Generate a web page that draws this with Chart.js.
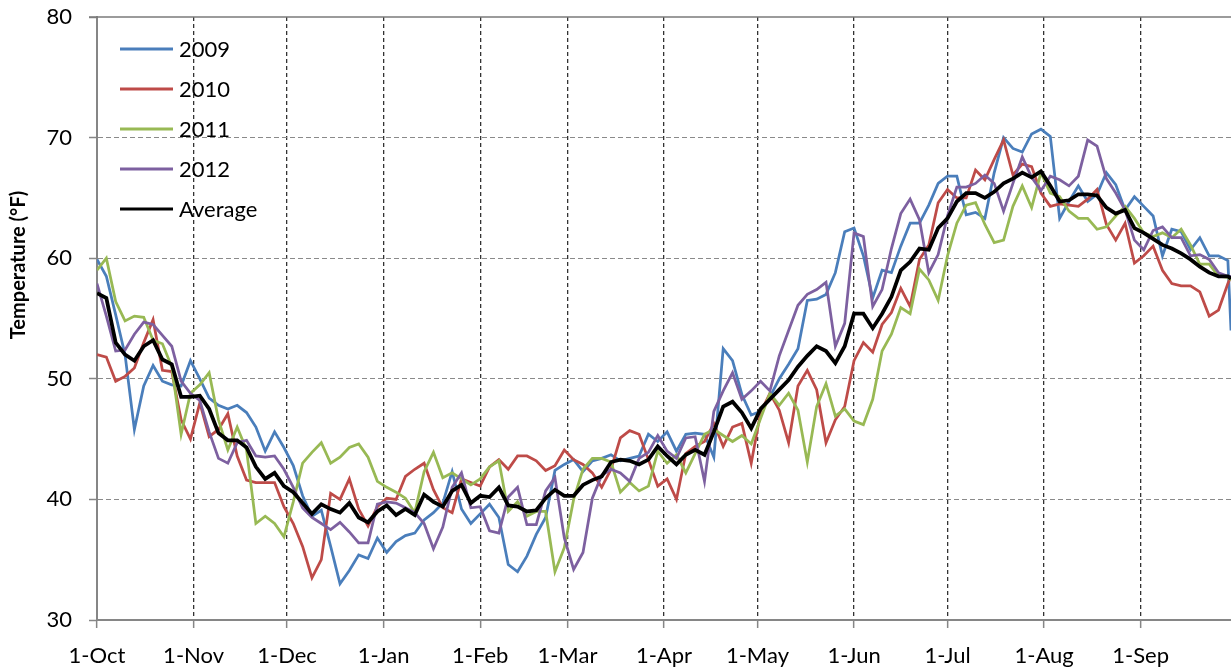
<!DOCTYPE html>
<html>
<head>
<meta charset="utf-8">
<title>Daily mean temperature, October to September</title>
<script src="https://cdn.jsdelivr.net/npm/chart.js@4.4.1/dist/chart.umd.min.js"></script>
<style>
  html, body { margin: 0; padding: 0; background: #fff; }
  #wrap { width: 1231px; height: 671px; }
</style>
</head>
<body>
<div id="wrap"><canvas id="tempChart" width="1231" height="671"></canvas></div>
<script>
// Days counted from 1 October; readings are kept every third day plus the last day of the year
const SAMPLE_DAYS = Array.from({ length: 122 }, (_, i) => i * 3).concat([364]);

// Month starts on the x axis
const MONTH_DAYS = [0, 31, 61, 92, 123, 151, 182, 212, 243, 273, 304, 335];
const MONTH_LABELS = ['1-Oct', '1-Nov', '1-Dec', '1-Jan', '1-Feb', '1-Mar',
                      '1-Apr', '1-May', '1-Jun', '1-Jul', '1-Aug', '1-Sep'];

const Y_TICKS = [30, 40, 50, 60, 70, 80];
const Y_TITLE = 'Temperature (°F)';

// Daily temperatures (°F) per season
const TEMP_2009 = [
  59.9, 58.5, 55.3, 52.0, 45.8, 49.4, 51.1, 49.8, 49.5, 49.4, 51.5, 50.0, 48.4, 47.8, 47.5, 47.8, 47.2, 46.0, 44.0, 45.6, 44.3,
  42.8, 40.3, 38.6, 39.1, 36.1, 33.0, 34.1, 35.4, 35.1, 36.8, 35.6, 36.5, 37.0, 37.2, 38.3, 38.9, 39.7, 42.3, 39.2, 38.0,
  38.8, 39.6, 38.5, 34.6, 34.0, 35.3, 37.1, 38.5, 42.4, 42.9, 43.3, 42.3, 43.2, 43.4, 43.7, 43.2, 43.4, 43.6, 45.4, 44.8, 45.6,
  44.0, 45.4, 45.5, 45.4, 43.5, 52.5, 51.5, 48.7, 47.0, 47.3, 48.5, 50.0, 51.2, 52.5, 56.5, 56.6, 57.0, 58.8, 62.2, 62.5,
  60.2, 56.7, 59.0, 58.8, 61.0, 62.9, 62.9, 64.4, 66.2, 66.8, 66.8, 63.6, 63.8, 63.3, 67.1, 70.0, 69.1, 68.8, 70.3, 70.7,
  70.1, 63.3, 64.7, 66.0, 64.7, 65.3, 67.1, 66.1, 64.0, 65.1, 64.3, 63.5, 60.2, 62.4, 62.2, 60.7, 61.7, 60.2, 60.2, 59.8,
  54.0
];
const TEMP_2010 = [
  52.0, 51.8, 49.8, 50.2, 50.9, 53.0, 54.9, 50.7, 50.6, 46.6, 45.0, 48.0, 45.2, 45.8, 47.1, 43.6, 41.6, 41.4, 41.4, 41.4, 39.4,
  38.0, 36.1, 33.5, 35.0, 40.5, 40.0, 41.7, 39.2, 37.8, 39.4, 40.1, 40.0, 41.9, 42.5, 43.0, 40.8, 39.3, 38.9, 41.7, 41.4,
  41.1, 42.7, 43.3, 42.5, 43.6, 43.6, 43.2, 42.4, 42.8, 44.1, 43.3, 42.9, 42.2, 41.0, 42.5, 45.1, 45.7, 45.4, 43.3, 41.1, 41.7,
  40.0, 43.8, 44.4, 44.8, 46.3, 44.4, 46.0, 46.3, 43.0, 47.2, 48.8, 47.4, 44.7, 49.4, 50.7, 49.1, 44.7, 46.6, 47.7, 51.5,
  53.0, 52.2, 54.5, 55.5, 57.5, 56.0, 59.9, 61.1, 64.6, 65.7, 65.0, 65.0, 67.3, 66.5, 68.2, 69.8, 66.9, 67.8, 67.6, 65.4,
  64.3, 64.5, 64.4, 64.3, 64.9, 65.7, 62.8, 61.5, 62.9, 59.6, 60.2, 61.0, 59.0, 57.9, 57.7, 57.7, 57.2, 55.2, 55.7, 57.9,
  58.5
];
const TEMP_2011 = [
  59.0, 60.0, 56.4, 54.8, 55.2, 55.1, 53.2, 52.9, 51.0, 45.4, 48.8, 49.5, 50.5, 46.6, 44.1, 46.0, 44.1, 38.0, 38.6, 38.0, 36.9,
  39.8, 43.0, 43.9, 44.7, 43.0, 43.5, 44.3, 44.6, 43.5, 41.5, 41.0, 40.6, 40.1, 38.9, 42.3, 43.9, 41.8, 42.2, 41.7, 41.2,
  41.7, 42.7, 43.2, 39.0, 39.8, 38.6, 39.0, 39.0, 34.0, 36.0, 40.0, 42.5, 43.4, 43.4, 43.1, 40.6, 41.4, 40.7, 41.1, 44.0, 43.0,
  43.7, 42.2, 43.8, 45.4, 45.8, 45.3, 44.8, 45.3, 44.6, 46.7, 48.8, 47.8, 48.8, 47.4, 43.1, 47.7, 49.6, 46.9, 47.5, 46.5,
  46.2, 48.3, 52.3, 53.7, 55.9, 55.4, 59.1, 58.2, 56.5, 60.2, 62.9, 64.4, 64.6, 62.8, 61.3, 61.5, 64.3, 66.0, 64.2, 67.1,
  65.4, 65.1, 63.9, 63.3, 63.3, 62.4, 62.6, 63.5, 64.3, 63.3, 62.1, 61.8, 62.1, 61.7, 62.4, 61.1, 59.5, 59.5, 58.5, 58.4,
  58.2
];
const TEMP_2012 = [
  57.9, 55.2, 52.3, 52.4, 53.7, 54.7, 54.5, 53.6, 52.7, 49.8, 48.8, 48.2, 45.6, 43.4, 43.0, 44.7, 44.9, 43.6, 43.5, 43.6, 42.5,
  41.0, 39.3, 38.5, 38.0, 37.5, 38.1, 37.3, 36.4, 36.4, 39.6, 39.8, 39.7, 39.3, 38.9, 38.0, 35.9, 37.7, 41.0, 42.2, 39.3,
  39.4, 37.4, 37.2, 40.2, 41.0, 37.9, 37.9, 40.7, 41.8, 36.8, 34.2, 35.6, 40.1, 42.0, 42.5, 42.2, 41.5, 43.4, 43.9, 45.3, 44.0,
  43.4, 45.1, 45.2, 41.5, 47.3, 49.0, 50.5, 48.3, 49.0, 49.8, 49.0, 51.9, 54.0, 56.1, 57.0, 57.4, 58.0, 52.7, 54.6, 62.1,
  61.8, 56.0, 57.4, 60.8, 63.7, 64.9, 63.2, 58.8, 60.3, 63.5, 65.9, 65.9, 66.2, 66.9, 66.2, 63.9, 66.2, 68.4, 66.7, 65.6,
  66.8, 66.5, 66.0, 66.8, 69.8, 69.3, 66.6, 65.4, 64.0, 61.5, 60.7, 62.3, 62.6, 61.7, 61.7, 60.2, 60.3, 59.9, 58.8, 58.5,
  58.5
];
const TEMP_AVERAGE = [
  57.1, 56.7, 53.0, 52.0, 51.5, 52.7, 53.2, 51.6, 51.2, 48.5, 48.5, 48.6, 47.5, 45.5, 44.9, 44.9, 44.3, 42.7, 41.7, 42.2, 41.1,
  40.6, 39.7, 38.8, 39.6, 39.2, 38.9, 39.7, 38.5, 38.1, 39.0, 39.5, 38.7, 39.2, 38.7, 40.4, 39.8, 39.4, 40.7, 41.2, 39.7,
  40.3, 40.2, 41.0, 39.5, 39.4, 39.0, 39.1, 40.1, 40.8, 40.3, 40.3, 41.2, 41.6, 41.9, 43.1, 43.3, 43.2, 42.9, 43.3, 44.4, 43.6,
  42.9, 43.7, 44.1, 43.7, 45.6, 47.7, 48.1, 47.2, 45.9, 47.5, 48.3, 49.1, 49.9, 51.0, 51.9, 52.7, 52.3, 51.3, 52.7, 55.4,
  55.4, 54.2, 55.4, 56.8, 59.0, 59.7, 60.8, 60.7, 62.5, 63.3, 64.7, 65.4, 65.4, 65.0, 65.5, 66.2, 66.6, 67.1, 66.7, 67.2,
  66.0, 64.7, 64.8, 65.3, 65.3, 65.2, 64.2, 63.7, 64.0, 62.5, 62.1, 61.6, 61.1, 60.8, 60.4, 59.9, 59.3, 58.8, 58.5, 58.5,
  58.3
];

const toPoints = (values) => values.map((v, i) => ({ x: SAMPLE_DAYS[i], y: v }));

function makeSeries(label, values, color, width, order) {
  return {
    label: label,
    data: toPoints(values),
    borderColor: color,
    borderWidth: width,
    pointRadius: 0,
    tension: 0,
    fill: false,
    order: order
  };
}

// Solid line along the top of the plot
const topFrame = {
  id: 'topFrame',
  beforeDatasetsDraw(chart) {
    const { ctx, chartArea: a } = chart;
    ctx.save();
    ctx.strokeStyle = '#7a7a7a';
    ctx.lineWidth = 1.5;
    ctx.beginPath();
    ctx.moveTo(a.left - 8, a.top);
    ctx.lineTo(a.right, a.top);
    ctx.stroke();
    ctx.restore();
  }
};

// Rotated y axis title, drawn by hand so it can sit where it does
const axisTitle = {
  id: 'axisTitle',
  afterDraw(chart) {
    const ctx = chart.ctx;
    ctx.save();
    ctx.translate(19, 265);
    ctx.rotate(-Math.PI / 2);
    ctx.font = 'bold 20px Lato';
    ctx.fillStyle = '#000';
    ctx.textAlign = 'center';
    ctx.textBaseline = 'middle';
    ctx.fillText(Y_TITLE, 0, 0);
    ctx.restore();
  }
};

// Legend inside the plot, top left
const insetLegend = {
  id: 'insetLegend',
  afterDatasetsDraw(chart) {
    const { ctx, chartArea: a } = chart;
    const x0 = a.left + 23;
    const y0 = a.top + 32;
    ctx.save();
    ctx.font = '22px Lato';
    ctx.fillStyle = '#000';
    ctx.textBaseline = 'middle';
    chart.data.datasets.forEach((ds, i) => {
      const y = y0 + i * 40;
      ctx.strokeStyle = ds.borderColor;
      ctx.lineWidth = 3;
      ctx.beginPath();
      ctx.moveTo(x0, y);
      ctx.lineTo(x0 + 53, y);
      ctx.stroke();
      ctx.fillText(ds.label, x0 + 59, y + 1);
    });
    ctx.restore();
  }
};

Chart.defaults.font.family = 'Lato';
Chart.defaults.font.size = 22;
Chart.defaults.color = '#000';

new Chart(document.getElementById('tempChart'), {
  type: 'line',
  data: {
    datasets: [
      makeSeries('2009', TEMP_2009, '#4a7ebb', 2.75, 5),
      makeSeries('2010', TEMP_2010, '#be4b48', 2.75, 4),
      makeSeries('2011', TEMP_2011, '#98b954', 2.75, 3),
      makeSeries('2012', TEMP_2012, '#7d60a0', 2.75, 2),
      makeSeries('Average', TEMP_AVERAGE, '#000000', 3.75, 1)
    ]
  },
  options: {
    responsive: false,
    animation: false,
    layout: { padding: { top: 17, right: 0, left: 0, bottom: 0 } },
    plugins: {
      legend: { display: false },
      tooltip: { enabled: false }
    },
    scales: {
      x: {
        type: 'linear',
        min: 0,
        max: 364,
        afterBuildTicks: (axis) => { axis.ticks = MONTH_DAYS.map(v => ({ value: v })); },
        afterFit: (scale) => {
          scale.height = 51;
          scale.paddingLeft = 0;
          scale.paddingRight = 0;
        },
        ticks: {
          autoSkip: false,
          maxRotation: 0,
          padding: 15,
          callback: (value, index) => MONTH_LABELS[index]
        },
        grid: {
          color: (ctx) => (ctx.index === 0 ? 'rgba(0,0,0,0)' : '#333333'),
          lineWidth: 1.3,
          tickLength: 8,
          tickColor: '#868686',
          tickWidth: 1.5,
          tickBorderDash: []
        },
        border: { display: true, color: '#868686', width: 2, dash: [4, 3] }
      },
      y: {
        min: 30,
        max: 80,
        afterBuildTicks: (axis) => { axis.ticks = Y_TICKS.map(v => ({ value: v })); },
        afterFit: (scale) => {
          scale.width = 97;
          scale.paddingTop = 0;
          scale.paddingBottom = 0;
        },
        ticks: { padding: 17 },
        grid: {
          color: (ctx) => (ctx.tick.value === 30 || ctx.tick.value === 80 ? 'rgba(0,0,0,0)' : '#8a8a8a'),
          lineWidth: 1,
          tickLength: 8,
          tickColor: '#868686',
          tickWidth: 1.5,
          tickBorderDash: []
        },
        border: { display: true, color: '#868686', width: 2, dash: [5, 3] }
      }
    }
  },
  plugins: [topFrame, axisTitle, insetLegend]
});
</script>
</body>
</html>
